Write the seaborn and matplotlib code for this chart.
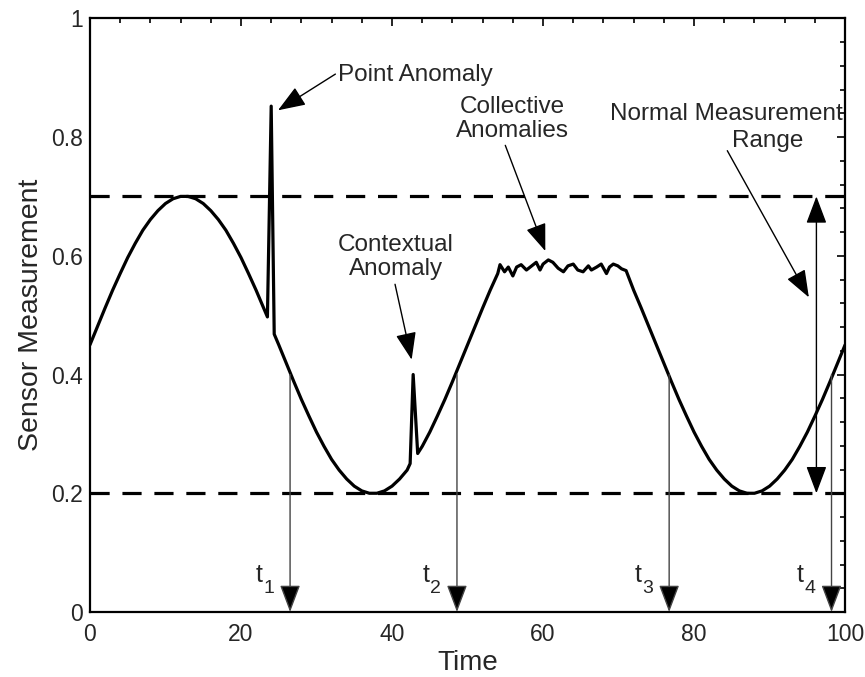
import matplotlib
matplotlib.use("Agg")
import matplotlib.pyplot as plt
import seaborn as sns
import pandas as pd
from matplotlib.ticker import MultipleLocator

time = [0, 1, 2, 3, 4, 5, 6, 7, 8, 9, 10, 11, 12, 13, 14, 15, 16, 17, 18, 19, 20, 21, 22, 23,
        23.5, 24.0, 24.4,
        25, 26, 27, 28, 29, 30, 31, 32, 33, 34, 35, 36, 37, 38, 39, 40, 41, 42,
        42.4, 42.8, 43.4,
        44, 45, 46, 47, 48, 49, 50, 51, 52, 53, 54,
        54.3, 54.9, 55.4, 56.0, 56.5, 57.1, 57.8, 58.5, 59.1, 59.6, 60.0, 60.7, 61.3, 62.0,
        62.7, 63.3, 64.0, 64.6, 65.3, 66.0, 66.4, 67.1, 67.7, 68.4, 68.8, 69.3, 69.9, 70.4, 71.0,
        72, 73, 74, 75, 76, 77, 78, 79, 80, 81, 82, 83, 84, 85, 86, 87, 88, 89, 90,
        91, 92, 93, 94, 95, 96, 97, 98, 99, 100]
measurement = [0.450, 0.481, 0.512, 0.542, 0.570, 0.597, 0.621, 0.643, 0.661, 0.676, 0.688, 0.696,
               0.700, 0.700, 0.696, 0.688, 0.676, 0.661, 0.643, 0.621, 0.597, 0.570, 0.542, 0.512,
               0.497, 0.852, 0.468,
               0.450, 0.419, 0.388, 0.358, 0.330, 0.303, 0.279, 0.257, 0.239, 0.224, 0.212, 0.204,
               0.200, 0.200, 0.204, 0.212, 0.224, 0.239,
               0.250, 0.400, 0.267,
               0.279, 0.303, 0.330, 0.358, 0.388, 0.419, 0.450, 0.481, 0.512, 0.542, 0.570,
               0.585, 0.573, 0.581, 0.566, 0.581, 0.585, 0.576, 0.583, 0.589, 0.576, 0.586, 0.593,
               0.589, 0.579, 0.573, 0.583, 0.586, 0.576, 0.573, 0.583, 0.576, 0.581, 0.586, 0.570,
               0.581, 0.586, 0.583, 0.578, 0.575,
               0.542, 0.512, 0.481, 0.450, 0.419, 0.388, 0.358, 0.330, 0.303, 0.279, 0.257, 0.239,
               0.224, 0.212, 0.204, 0.200, 0.200, 0.204, 0.212, 0.224, 0.239, 0.257, 0.279, 0.303,
               0.330, 0.358, 0.388, 0.419, 0.450]

# normal range bounds and the marked time instants
range_low = 0.2
range_high = 0.7
t_times = [26.5, 48.6, 76.7, 98.2]
t_subs = ["1", "2", "3", "4"]
t_start = 0.4

df = pd.DataFrame({"Time": time, "Sensor Measurement": measurement})

sns.set_style("white")
plt.rcParams["font.family"] = ["Liberation Sans", "DejaVu Sans"]

fig = plt.figure(figsize=(8.65, 6.77), dpi=100)
ax = fig.add_axes([0.104, 0.096, 0.873, 0.877])

# the trace itself
sns.lineplot(data=df, x="Time", y="Sensor Measurement", sort=False, estimator=None,
             color="black", linewidth=2.3, ax=ax)

# normal measurement range
for lvl in [range_low, range_high]:
    ax.axhline(lvl, color="black", linewidth=2.3, dashes=(6, 4), zorder=1)

head = "-|>,head_length=0.85,head_width=0.32"

# time markers, t with a dropped subscript
for tx, sub in zip(t_times, t_subs):
    ax.annotate("", xy=(tx, 0.0), xytext=(tx, t_start),
                arrowprops=dict(arrowstyle=head, color="#444444", lw=1.0,
                                mutation_scale=20, shrinkA=0, shrinkB=0,
                                fc="black", ec="#444444"))
    ax.text(tx - 4.1, 0.062, "t", fontsize=18, ha="center", va="center")
    ax.text(tx - 2.8, 0.040, sub, fontsize=14, ha="center", va="center")

# range double arrow
ax.annotate("", xy=(96.2, range_low), xytext=(96.2, range_high),
            arrowprops=dict(arrowstyle="<|-|>,head_length=0.85,head_width=0.32", color="black",
                            lw=1.0, mutation_scale=20, shrinkA=0, shrinkB=0))

# annotation texts with arrows
arrow_kw = dict(arrowstyle=head, color="black", lw=1.0, mutation_scale=20, shrinkA=0, shrinkB=0)
fs = 17.5
ax.annotate("", xy=(24.9, 0.845), xytext=(32.5, 0.906), arrowprops=arrow_kw)
ax.text(32.8, 0.905, "Point Anomaly", fontsize=fs, ha="left", va="center")

ax.annotate("", xy=(60.3, 0.608), xytext=(55.0, 0.786), arrowprops=arrow_kw)
ax.text(55.9, 0.830, "Collective\nAnomalies", fontsize=fs, ha="center", va="center",
        linespacing=1.15)

ax.annotate("", xy=(42.6, 0.425), xytext=(40.4, 0.552), arrowprops=arrow_kw)
ax.text(40.5, 0.598, "Contextual\nAnomaly", fontsize=fs, ha="center", va="center",
        linespacing=1.15)

ax.annotate("", xy=(95.2, 0.530), xytext=(84.4, 0.777), arrowprops=arrow_kw)
ax.text(84.3, 0.838, "Normal Measurement", fontsize=fs, ha="center", va="center")
ax.text(89.7, 0.793, "Range", fontsize=fs, ha="center", va="center")

# axes styling
ax.set_xlim(0, 100)
ax.set_ylim(0, 1)
ax.xaxis.set_minor_locator(MultipleLocator(4))
ax.yaxis.set_minor_locator(MultipleLocator(0.04))
ax.set_xticks([0, 20, 40, 60, 80, 100])
ax.set_xticklabels(["0", "20", "40", "60", "80", "100"])
ax.set_yticks([0, 0.2, 0.4, 0.6, 0.8, 1.0])
ax.set_yticklabels(["0", "0.2", "0.4", "0.6", "0.8", "1"])
ax.tick_params(which="both", direction="in", top=True, right=True, width=1.2, color="black")
ax.tick_params(which="major", length=6, labelsize=16.5)
ax.tick_params(which="minor", length=3.5)
ax.tick_params(axis="x", which="major", pad=8)
ax.tick_params(axis="y", which="major", pad=5)
for sp in ax.spines.values():
    sp.set_visible(True)
    sp.set_color("black")
    sp.set_linewidth(1.6)

ax.set_xlabel("Time", fontsize=20, labelpad=3)
ax.set_ylabel("Sensor Measurement", fontsize=20.5, labelpad=5)

plt.savefig("out.png", dpi=100)
